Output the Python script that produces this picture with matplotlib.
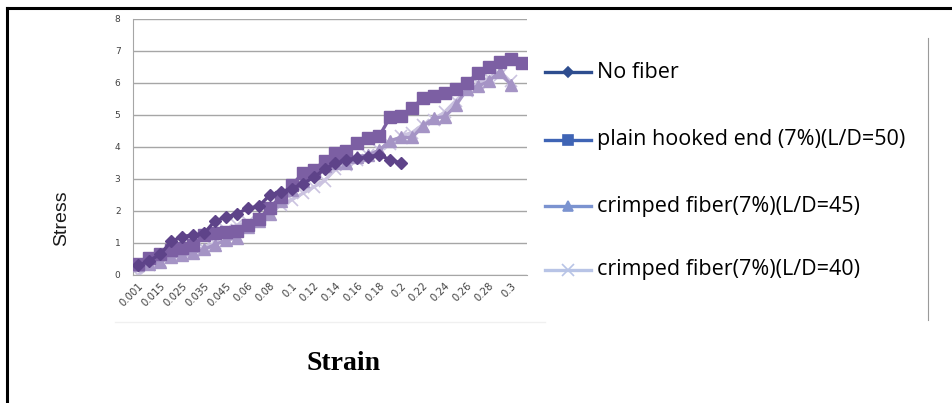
import numpy as np
import matplotlib
matplotlib.use("Agg")
import matplotlib.pyplot as plt
from matplotlib.lines import Line2D

# ---- data ----
categories = ["0.001", "0.01", "0.015", "0.02", "0.025", "0.03", "0.035", "0.04", "0.045", "0.05",
              "0.06", "0.07", "0.08", "0.09", "0.1", "0.11", "0.12", "0.13", "0.14", "0.15",
              "0.16", "0.17", "0.18", "0.19", "0.2", "0.21", "0.22", "0.23", "0.24", "0.25",
              "0.26", "0.27", "0.28", "0.29", "0.3", "0.31"]

no_fiber = [0.3, 0.45, 0.65, 1.05, 1.2, 1.25, 1.3, 1.7, 1.8, 1.92,
            2.08, 2.15, 2.5, 2.6, 2.7, 2.85, 3.05, 3.3, 3.5, 3.6,
            3.65, 3.7, 3.75, 3.6, 3.5]

plain_hooked = [0.33, 0.53, 0.65, 0.78, 0.84, 0.94, 1.25, 1.31, 1.33, 1.38,
                1.55, 1.75, 2.1, 2.45, 2.8, 3.18, 3.28, 3.56, 3.8, 3.88,
                4.12, 4.28, 4.34, 4.94, 4.97, 5.22, 5.53, 5.6, 5.68, 5.8,
                6.0, 6.3, 6.5, 6.65, 6.75, 6.62]

crimped_45 = [0.3, 0.35, 0.42, 0.55, 0.62, 0.7, 0.8, 0.95, 1.1, 1.15,
              1.5, 1.7, 1.9, 2.3, 2.65, 2.95, 3.2, 3.4, 3.5, 3.5,
              3.7, 3.75, 3.9, 4.2, 4.3, 4.3, 4.65, 4.9, 4.95, 5.3,
              5.8, 5.9, 6.05, 6.35, 5.95]

crimped_40 = [0.0, 0.3, 0.45, 0.55, 0.65, 0.75, 0.85, 1.0, 1.4, 1.55,
              1.65, 1.75, 1.9, 2.2, 2.35, 2.55, 2.75, 2.95, 3.3, 3.45,
              3.6, 3.75, 3.9, 4.1, 4.35, 4.45, 4.7, 4.85, 5.1, 5.45,
              5.75, 6.0, 6.15, 6.25, 6.05]

series_names = ["No fiber", "plain hooked end (7%)(L/D=50)",
                "crimped fiber(7%)(L/D=45)", "crimped fiber(7%)(L/D=40)"]

y_ticks = [0, 1, 2, 3, 4, 5, 6, 7, 8]

# ---- figure ----
W, H = 952, 403
fig = plt.figure(figsize=(W / 100, H / 100), dpi=100)
fig.patch.set_facecolor("white")

ax = fig.add_axes([133 / W, 1 - 275 / H, (527 - 133) / W, (275 - 19) / H])

line_cols = ["#5e4389", "#7c5fa3", "#a594c5", "#cbc3e0"]
x_all = np.arange(len(categories))

ax.plot(x_all[:len(crimped_40)], crimped_40, color=line_cols[3], lw=2.4,
        marker="x", ms=8, mew=1.2, zorder=2)
ax.plot(x_all[:len(crimped_45)], crimped_45, color=line_cols[2], lw=2.4,
        marker="^", ms=8, zorder=3)
ax.plot(x_all[:len(plain_hooked)], plain_hooked, color=line_cols[1], lw=2.4,
        marker="s", ms=8, zorder=4)
ax.plot(x_all[:len(no_fiber)], no_fiber, color=line_cols[0], lw=2.4,
        marker="D", ms=6, zorder=5)

ax.set_xlim(-0.5, len(categories) - 0.5)
ax.set_ylim(0, 8)
ax.set_yticks(y_ticks)
ax.set_yticklabels([str(v) for v in y_ticks], fontsize=6.5, color="#404040",
                   family="DejaVu Sans")
ax.set_xticks(x_all[::2])
ax.set_xticklabels(categories[::2], rotation=45, ha="right", rotation_mode="anchor",
                   fontsize=7.3, color="#404040", family="DejaVu Sans")
ax.tick_params(axis="both", length=0)
ax.tick_params(axis="y", pad=9)
ax.tick_params(axis="x", pad=4)

ax.grid(axis="y", color="#a6a6a6", lw=1.0)
ax.set_axisbelow(True)
for s in ["top", "right"]:
    ax.spines[s].set_visible(False)
ax.spines["left"].set_color("#a6a6a6")
ax.spines["bottom"].set_color("#a6a6a6")

fig.text(62 / W, 1 - 218 / H, "Stress", rotation=90, ha="center", va="center",
         fontsize=14, family="Liberation Sans", color="#1a1a1a")
fig.text(343 / W, 1 - 363 / H, "Strain", ha="center", va="center",
         fontsize=20, family="Liberation Serif", fontweight="bold", color="black")

# ---- legend (custom) ----
leg_cols = ["#2e4d8f", "#3f64b5", "#7b93d0", "#b8c4e6"]
leg_marks = [("D", 5), ("s", 7), ("^", 7), ("x", 9)]
leg_y = [72, 140, 206, 270]
for name, col, (mk, ms), yy in zip(series_names, leg_cols, leg_marks, leg_y):
    yf = 1 - yy / H
    fig.add_artist(Line2D([545 / W, 591 / W], [yf, yf], color=col, lw=2.4,
                          transform=fig.transFigure))
    fig.add_artist(Line2D([568 / W], [yf], color=col, marker=mk, ms=ms, mew=1.2,
                          transform=fig.transFigure))
    fig.text(597 / W, yf, name, ha="left", va="center", fontsize=15.5,
             family="Open Sans", color="black")

# ---- borders ----
fig.add_artist(Line2D([7 / W, 1.0], [1 - 8 / H, 1 - 8 / H], color="black", lw=2.2,
                      transform=fig.transFigure))
fig.add_artist(Line2D([7 / W, 7 / W], [0, 1 - 8 / H], color="black", lw=2.2,
                      transform=fig.transFigure))
fig.add_artist(Line2D([928 / W, 928 / W], [1 - 320 / H, 1 - 38 / H], color="#9a9a9a",
                      lw=0.8, transform=fig.transFigure))
fig.add_artist(Line2D([115 / W, 545 / W], [1 - 322 / H, 1 - 322 / H], color="#f0f0f0",
                      lw=1.0, transform=fig.transFigure))

fig.savefig("out.png", dpi=100)
